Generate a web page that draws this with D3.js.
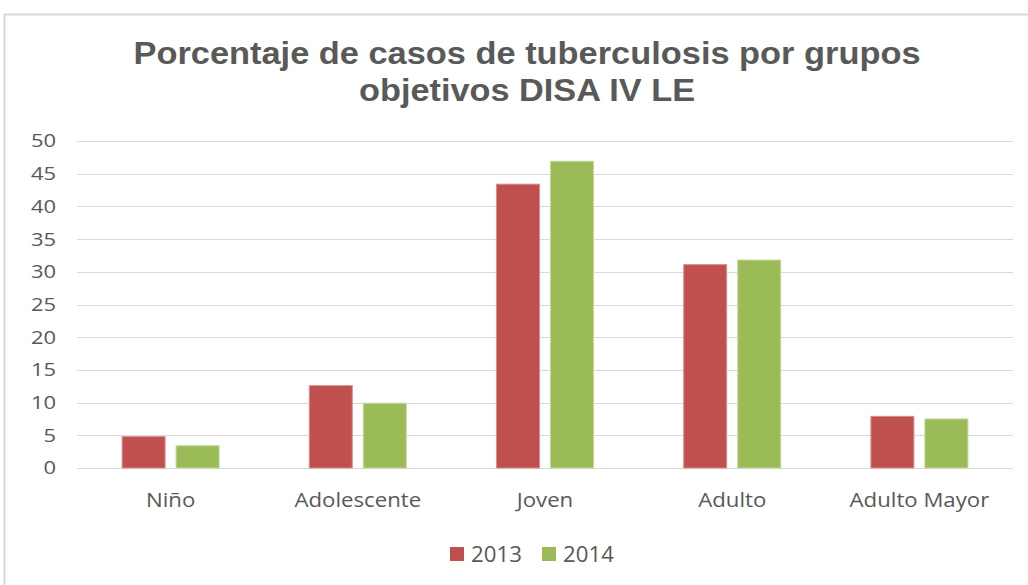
<!DOCTYPE html>
<html><head><meta charset="utf-8">
<script src="https://cdn.jsdelivr.net/npm/d3@7"></script>
<style>body{margin:0;background:#fff}svg{display:block}</style>
</head><body><svg id="c" width="1028" height="585"></svg>
<script>
const categories = ["Niño","Adolescente","Joven","Adulto","Adulto Mayor"];
const series = ["2013","2014"];
const values2013 = [4.8, 12.6, 43.4, 31.1, 7.9];
const values2014 = [3.4, 9.9, 46.9, 31.8, 7.5];
const yTicks = [0,5,10,15,20,25,30,35,40,45,50];
const colors = ["#c0504d","#9bbb59"];
const strokes = ["#d9908e","#c3d89c"];
const titleLines = ["Porcentaje de casos de tuberculosis por grupos","objetivos DISA IV LE"];
const titleWidths = [787, 336];

const svg = d3.select("#c");
const FONT = "Open Sans, DejaVu Sans, sans-serif";
// outer border
svg.append("rect").attr("x",4.5).attr("y",14.5).attr("width",1100).attr("height",700)
  .attr("fill","#fff").attr("stroke","#d9d9d9").attr("stroke-width",2);

const x0 = d3.scaleBand().domain(categories).range([77,1013]);
const y = d3.scaleLinear().domain([0,50]).range([468,141]);

// title
svg.append("g").selectAll("text").data(titleLines).join("text")
  .attr("x",527).attr("y",(d,i)=>64+i*37).attr("text-anchor","middle")
  .attr("font-family","Liberation Sans, Arial, sans-serif").attr("font-weight","bold")
  .attr("font-size",32).attr("fill","#595959")
  .attr("textLength",(d,i)=>titleWidths[i]).attr("lengthAdjust","spacingAndGlyphs")
  .text(d=>d);

// gridlines
svg.append("g").selectAll("line").data(yTicks).join("line")
  .attr("x1",77).attr("x2",1013).attr("y1",d=>Math.round(y(d))+0.5).attr("y2",d=>Math.round(y(d))+0.5)
  .attr("stroke","#d9d9d9").attr("stroke-width",1);

// y axis labels (horizontally stretched like the reference)
svg.append("g").selectAll("text").data(yTicks).join("text")
  .attr("transform",d=>`translate(56,${y(d)}) scale(1.22,1)`)
  .attr("text-anchor","end").attr("dy","0.36em")
  .attr("font-family",FONT).attr("font-size",18).attr("fill","#595959")
  .text(d=>d);

// x axis labels
svg.append("g").selectAll("text").data(categories).join("text")
  .attr("transform",d=>`translate(${x0(d)+x0.bandwidth()/2},500) scale(1.11,1)`)
  .attr("text-anchor","middle").attr("dy","0.36em")
  .attr("font-family",FONT).attr("font-size",20).attr("fill","#595959")
  .text(d=>d);

// bars
const barW = 43, gap = 11;
const data = categories.map((c,i)=>({c, v:[values2013[i], values2014[i]]}));
const g = svg.append("g");
data.forEach(d=>{
  const cx = x0(d.c)+x0.bandwidth()/2;
  series.forEach((s,j)=>{
    const xs = j===0 ? cx - gap/2 - barW : cx + gap/2;
    g.append("rect").attr("x",xs).attr("width",barW)
      .attr("y",y(d.v[j])).attr("height",y(0)-y(d.v[j]))
      .attr("fill",colors[j]).attr("stroke",strokes[j]).attr("stroke-width",1);
  });
});

// legend
const leg = svg.append("g");
const legX = [450,542];
series.forEach((s,j)=>{
  leg.append("rect").attr("x",legX[j]).attr("y",547).attr("width",14).attr("height",14).attr("fill",colors[j]);
  leg.append("text").attr("transform",`translate(${legX[j]+21},554) scale(1.06,1)`).attr("dy","0.36em")
    .attr("font-family",FONT).attr("font-size",21).attr("fill","#595959").text(s);
});
</script></body></html>
